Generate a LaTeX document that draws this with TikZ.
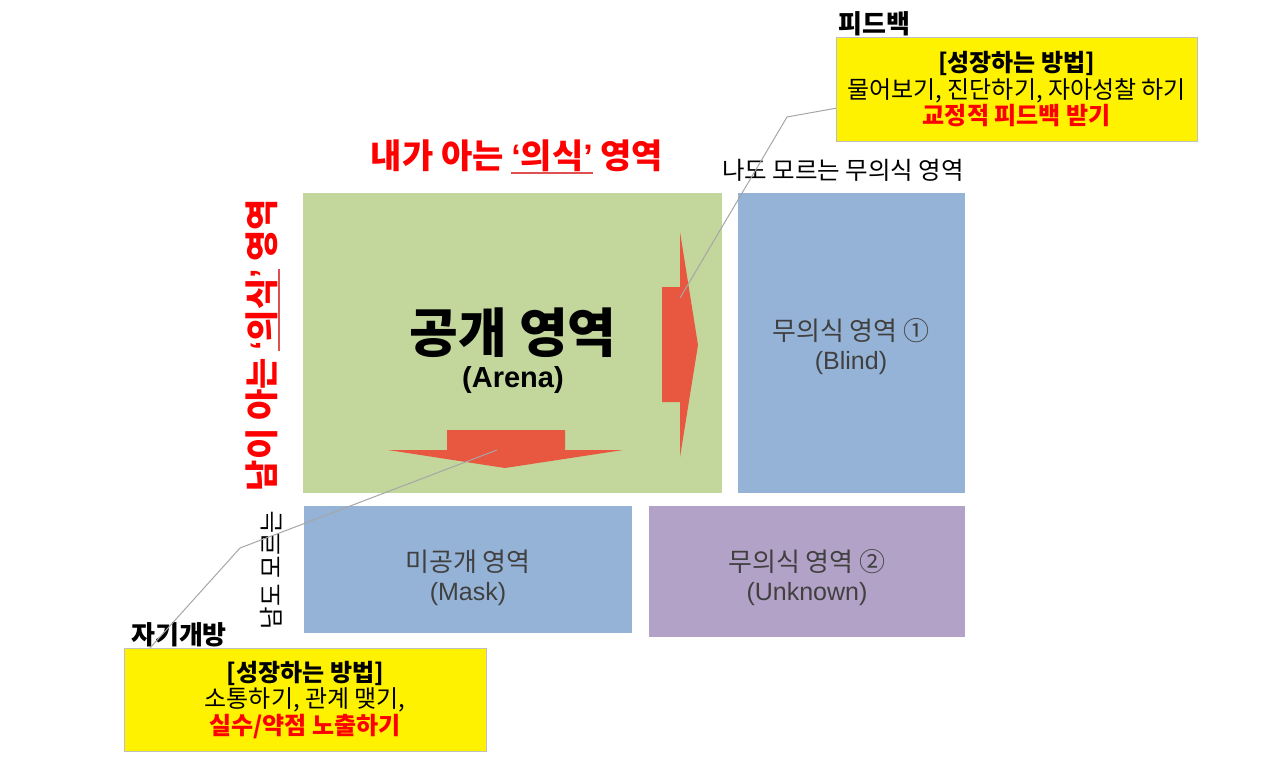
\documentclass[tikz,border=0pt]{standalone}
\usepackage{fontspec}
\setmainfont{Liberation Sans}
\newfontfamily\kr{Noto Sans CJK KR}
\usetikzlibrary{positioning}

\definecolor{arenagreen}{HTML}{C3D69B}
\definecolor{zoneblue}{HTML}{95B3D7}
\definecolor{zonepurple}{HTML}{B3A2C7}
\definecolor{arrowred}{HTML}{E8573F}
\definecolor{linegray}{HTML}{A6A6A6}
\definecolor{labelgray}{HTML}{404040}
\definecolor{underred}{HTML}{E05050}
\newcommand{\fsz}[2]{\fontsize{#1}{#2}\selectfont}
\newcommand{\q}[1]{{\rmfamily #1}}
\newcommand{\redline}[1]{\setbox0\hbox{#1}\rlap{\textcolor{underred}{\rule[-5pt]{\wd0}{1.5pt}}}\box0\relax}

\begin{document}
\begin{tikzpicture}[x=1pt,y=-1pt,
    zone/.style={draw=none,inner sep=0pt,anchor=north west},
    zonetext/.style={text=labelgray,align=center,font=\kr\fsz{26}{29}},
    headline/.style={text=red,font=\kr\bfseries\fsz{34}{38}},
    notebox/.style={draw=black!25,fill=yellow,inner sep=0pt,anchor=north west,align=center,font=\kr\fsz{24}{26.5}},
    notehead/.style={font=\kr\bfseries\fsz{26}{30},anchor=south west,inner sep=1pt},
    callout/.style={draw=linegray,line width=1pt},
    bigarrow/.style={fill=arrowred,draw=none}]
    \useasboundingbox (0,0) rectangle (1280,764);
    % the four zones
    \node[zone,fill=arenagreen,minimum width=419,minimum height=300](arena)at(303, 193){};
    \node[zone,fill=zoneblue,minimum width=227,minimum height=300](blind)at(738, 193){};
    \node[zone,fill=zoneblue,minimum width=328,minimum height=127](mask)at(304, 506){};
    \node[zone,fill=zonepurple,minimum width=316,minimum height=131](unknown)at(649, 506){};
    % zone labels
    \node[zonetext,font=\kr\bfseries\fsz{53}{56},text=black](arenaname)at(513, 333){공개 영역};
    \node[zonetext,font=\bfseries\fsz{29}{32},text=black](arenasub)at(513, 380){(Arena)};
    \node[zonetext](blindname)at(851, 347){무의식 영역 ①\\{\rmfamily\fsz{25}{29}(Blind)}};
    \node[zonetext](maskname)at(468, 578){미공개 영역\\{\rmfamily\fsz{25}{29}(Mask)}};
    \node[zonetext](unknownname)at(807, 578){무의식 영역 ②\\{\rmfamily\fsz{25}{29}(Unknown)}};
    % axis titles
    \node[headline](mytitle)at(517, 157){내가 아는 \redline{\q{‘}의식\q{’}} 영역};
    \node[headline,rotate=90](othertitle)at(263, 345){남이 아는 \redline{\q{‘}의식\q{’}} 영역};
    \node[zonetext,text=black,font=\kr\fsz{24.5}{28}](myunknown)at(843, 170){나도 모르는 무의식 영역};
    \node[zonetext,text=black,font=\kr\fsz{24.5}{28},rotate=90](otherunknown)at(271, 570){남도 모르는};
    % arrows out of the arena
    \path[bigarrow](662, 287) -- (680, 287) -- (680, 232) -- (698, 345) -- (680, 457) -- (680, 402) -- (662, 402) -- cycle;
    \path[bigarrow](447, 430) -- (565, 430) -- (565, 450) -- (623, 450) -- (505, 468) -- (388, 450) -- (447, 450) -- cycle;
    \coordinate(feedin)at(680, 298);
    \coordinate(openin)at(497, 450);
    % callouts
    \node[notebox,minimum width=361,minimum height=104](feedbox)at(836, 37){\textbf{[성장하는 방법]}\\물어보기, 진단하기, 자아성찰 하기\\\textcolor{red}{\textbf{교정적 피드백 받기}}};
    \node[notehead](feedlabel)at([xshift=1pt]feedbox.north west){피드백};
    \node[notebox,minimum width=362,minimum height=103](openbox)at(124, 648){\textbf{[성장하는 방법]}\\소통하기, 관계 맺기,\\\textcolor{red}{\textbf{실수/약점 노출하기}}};
    \node[notehead](openlabel)at([xshift=6pt]openbox.north west){자기개방};
    \coordinate(feedbend)at(787, 117);
    \coordinate(openbend)at(240, 548);
    \draw[callout]([yshift=-19pt]feedbox.west) -- (feedbend) -- (feedin);
    \draw[callout]([xshift=26pt]openbox.north west) -- (openbend) -- (openin);
\end{tikzpicture}
\end{document}
